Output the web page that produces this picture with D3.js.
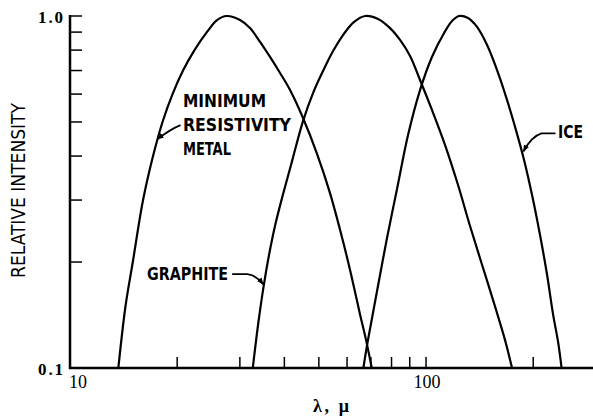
<!DOCTYPE html>
<html><head><meta charset="utf-8">
<script src="https://cdn.jsdelivr.net/npm/d3@7"></script>
<style>
html,body{margin:0;padding:0;background:#fff;}
svg{display:block;}
</style></head>
<body>
<script>
// ---- data (wavelength in microns, relative intensity) ----
const metalLambda = [13.67, 14.32, 15.01, 16.04, 17.11, 18.19, 19.41, 20.77, 22.37, 24.26, 25.88, 27.55,
                     30.03, 32.03, 34.18, 36.46, 38.90, 41.50, 45.13, 49.41, 53.74, 57.34, 61.17, 65.26, 67.85, 70.39];
const metalI      = [0.100, 0.150, 0.200, 0.300, 0.400, 0.500, 0.600, 0.700, 0.800, 0.901, 0.974, 1.000,
                     0.974, 0.924, 0.844, 0.765, 0.689, 0.616, 0.513, 0.406, 0.314, 0.247, 0.190, 0.142, 0.120, 0.100];
const graphiteLambda = [32.61, 33.74, 34.96, 36.22, 37.65, 39.40, 42.04, 45.13, 48.15, 51.37, 54.81, 58.47, 62.79, 67.43,
                        73.33, 79.23, 84.53, 90.18, 96.19, 103.9, 113.1, 123.0, 132.9, 144.6, 157.3, 166.7, 174.4];
const graphiteI      = [0.100, 0.1325, 0.170, 0.2094, 0.2532, 0.304, 0.387, 0.503, 0.604, 0.698, 0.795, 0.883, 0.962, 1.000,
                        0.981, 0.924, 0.855, 0.770, 0.658, 0.541, 0.430, 0.331, 0.2532, 0.1924, 0.1462, 0.120, 0.100];
const iceLambda = [66.68, 68.30, 70.53, 72.85, 77.70, 82.89, 89.01, 96.19, 103.9, 112.4, 118.3, 123.8,
                   131.2, 139.1, 148.4, 158.3, 168.9, 178.9, 188.5, 198.5, 209.0, 218.8, 227.4, 234.9, 240.3];
const iceI      = [0.100, 0.1162, 0.1387, 0.1655, 0.234, 0.3225, 0.459, 0.616, 0.765, 0.895, 0.968, 1.000,
                   0.987, 0.931, 0.827, 0.702, 0.577, 0.474, 0.390, 0.310, 0.2386, 0.1837, 0.142, 0.1186, 0.100];

const xTicks = [20, 30, 40, 50, 60, 70, 80, 90, 100, 200];
const xTickLabels = [10, 100];
const yTicks = [0.2, 0.3, 0.4, 0.5, 0.6, 0.7, 0.8, 0.9, 1.0];
const yTickLabels = ["0.1", "1.0"];
const yTickLabelValues = [0.1, 1.0];

// annotation anchors (data coords of arrow tips)
const metalTip = [17.5, 0.444];
const graphiteTip = [35.1, 0.173];
const iceTip = [186.6, 0.41];

const W = 593, H = 418;
const x = d3.scaleLog().domain([10, 294.4]).range([70, 593]);
const y = d3.scaleLog().domain([0.1, 1]).range([368, 16]);

const svg = d3.select("body").append("svg").attr("width", W).attr("height", H);
const defs = svg.append("defs");
defs.append("marker").attr("id","arr").attr("viewBox","0 0 10 10").attr("refX",9).attr("refY",5)
  .attr("markerWidth",7).attr("markerHeight",7).attr("markerUnits","userSpaceOnUse").attr("orient","auto")
  .append("path").attr("d","M0,1 L10,5 L0,9 Z").attr("fill","#000");

// axes lines
svg.append("line").attr("x1",x(10)).attr("x2",x(10)).attr("y1",y(1)-1).attr("y2",y(0.1)+1)
  .attr("stroke","#000").attr("stroke-width",2.5);
svg.append("line").attr("x1",x(10)-1).attr("x2",W).attr("y1",y(0.1)).attr("y2",y(0.1))
  .attr("stroke","#000").attr("stroke-width",2.5);

// inward ticks
svg.selectAll(".yt").data(yTicks).enter().append("line")
  .attr("x1",x(10)).attr("x2",x(10)+12).attr("y1",d=>y(d)).attr("y2",d=>y(d))
  .attr("stroke","#000").attr("stroke-width",1.5);
svg.selectAll(".xt").data(xTicks).enter().append("line")
  .attr("x1",d=>x(d)).attr("x2",d=>x(d)).attr("y1",y(0.1)).attr("y2",y(0.1)-11)
  .attr("stroke","#000").attr("stroke-width",1.5);

// tick labels
svg.selectAll(".xl").data(xTickLabels).enter().append("text")
  .attr("x",d=>x(d)+(d===10?8:1)).attr("y",388).attr("text-anchor","middle")
  .attr("font-family","Liberation Serif, serif").attr("font-size",18).text(d=>d);
svg.selectAll(".yl").data(yTickLabelValues).enter().append("text")
  .attr("x",63).attr("y",d=>y(d)+7).attr("text-anchor","end")
  .attr("font-family","Liberation Serif, serif").attr("font-weight","bold").attr("font-size",17)
  .attr("textLength",25).attr("lengthAdjust","spacing")
  .text((d,i)=>yTickLabels[i]);

// axis titles
svg.append("text").attr("transform","translate(25,190.5) rotate(-90)").attr("text-anchor","middle")
  .attr("font-family","Liberation Sans Narrow, DejaVu Sans Condensed, Arial, sans-serif").attr("font-size",20)
  .attr("textLength",175).attr("lengthAdjust","spacingAndGlyphs").text("RELATIVE INTENSITY");
svg.append("text").attr("x",331).attr("y",412).attr("text-anchor","middle")
  .attr("font-family","Liberation Serif, serif").attr("font-weight","bold").attr("font-size",18)
  .attr("textLength",36).attr("lengthAdjust","spacing")
  .text("λ, μ");

// curves
const line = d3.line().x(d=>x(d[0])).y(d=>y(d[1])).curve(d3.curveCatmullRom.alpha(0.5));
const series = [
  d3.zip(metalLambda, metalI),
  d3.zip(graphiteLambda, graphiteI),
  d3.zip(iceLambda, iceI)
];
svg.selectAll(".curve").data(series).enter().append("path")
  .attr("d",line).attr("fill","none").attr("stroke","#000").attr("stroke-width",2.2)
  .attr("stroke-linejoin","round");

// labels
const lblFont = "Liberation Sans Narrow, DejaVu Sans Condensed, Arial, sans-serif";
function label(txt, lx, ly, len){
  svg.append("text").attr("x",lx).attr("y",ly).attr("font-family",lblFont).attr("font-size",17)
    .attr("font-weight","bold").attr("textLength",len).attr("lengthAdjust","spacingAndGlyphs").text(txt);
}
label("MINIMUM", 183, 107, 83);
label("RESISTIVITY", 183, 131, 108);
label("METAL", 183, 155, 48);
label("GRAPHITE", 147, 280, 81);
label("ICE", 558, 138, 25);

// leaders
const mt = [x(metalTip[0]), y(metalTip[1])];
svg.append("path").attr("d",`M${mt[0]+24},${mt[1]-15} Q${mt[0]+14},${mt[1]-11} ${mt[0]+1},${mt[1]-1}`)
  .attr("fill","none").attr("stroke","#000").attr("stroke-width",1.8).attr("marker-end","url(#arr)");
const gt = [x(graphiteTip[0]), y(graphiteTip[1])];
svg.append("path").attr("d",`M${gt[0]-32},${gt[1]-10} L${gt[0]-17},${gt[1]-10} Q${gt[0]-8},${gt[1]-9} ${gt[0]-1},${gt[1]}`)
  .attr("fill","none").attr("stroke","#000").attr("stroke-width",1.8).attr("marker-end","url(#arr)");
const it = [x(iceTip[0]), y(iceTip[1])];
svg.append("path").attr("d",`M${it[0]+33},${it[1]-19} L${it[0]+19},${it[1]-19} Q${it[0]+9},${it[1]-16} ${it[0]+1},${it[1]-1}`)
  .attr("fill","none").attr("stroke","#000").attr("stroke-width",1.8).attr("marker-end","url(#arr)");
</script>
</body></html>
